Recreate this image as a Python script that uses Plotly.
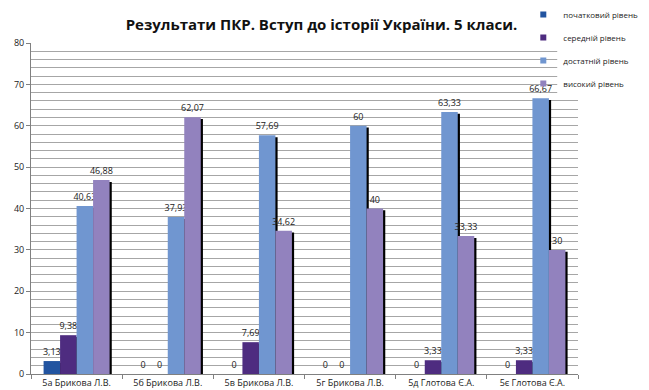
import plotly.graph_objects as go

categories = ["5а Брикова Л.В.", "5б Брикова Л.В.", "5в Брикова Л.В.",
              "5г Брикова Л.В.", "5д Глотова Є.А.", "5є Глотова Є.А."]
series_names = ["початковий рівень", "середній рівень", "достатній рівень", "високий рівень"]
pochatkovyi = [3.13, 0, 0, 0, 0, 0]
serednii = [9.38, 0, 7.69, 0, 3.33, 3.33]
dostatnii = [40.63, 37.93, 57.69, 60, 63.33, 66.67]
vysokyi = [46.88, 62.07, 34.62, 40, 33.33, 30]
series_values = [pochatkovyi, serednii, dostatnii, vysokyi]
colors = ["#2254A0", "#4E2C80", "#7096D0", "#9282BE"]
y_ticks = [0, 10, 20, 30, 40, 50, 60, 70, 80]

xs = list(range(len(categories)))
w = 0.181
shadow_shift = 0.024
shadow_drop = 0.45

def fmt(v):
    s = f"{v:.2f}".rstrip("0").rstrip(".")
    return s.replace(".", ",")

fig = go.Figure()
for i, (name, vals, col) in enumerate(zip(series_names, series_values, colors)):
    off = -2 * w + i * w
    fig.add_trace(go.Bar(
        x=xs, y=[max(v - shadow_drop, 0) for v in vals], width=w,
        offset=off + shadow_shift, marker=dict(color="#000000", line=dict(width=0)),
        showlegend=False, hoverinfo="skip"))
    fig.add_trace(go.Bar(
        x=xs, y=vals, width=w, offset=off, name=name,
        legendgroup=name, showlegend=False,
        marker=dict(color=col, line=dict(width=0)),
        text=[fmt(v) for v in vals], textposition="outside",
        textfont=dict(size=9, color="#222222", family="Open Sans"),
        cliponaxis=False))

# legend entries with small square keys
for name, col in zip(series_names, colors):
    fig.add_trace(go.Scatter(
        x=[None], y=[None], mode="markers", name=name, legendgroup=name,
        marker=dict(symbol="square", size=6, color=col), showlegend=True))

# white patch behind the legend entries (hides gridlines there)
fig.add_shape(type="rect", xref="paper", yref="paper",
              x0=0.962, x1=1.002, y0=0.8375, y1=1.003,
              fillcolor="white", line=dict(width=0), layer="above")

fig.update_layout(
    width=649, height=390,
    barmode="overlay",
    uniformtext=dict(minsize=9, mode="show"),
    paper_bgcolor="white", plot_bgcolor="white",
    margin=dict(l=23, r=79, t=34.5, b=24, autoexpand=False),
    title=dict(text="<b>Результати ПКР. Вступ до історії України. 5 класи.</b>",
               x=0.483, xanchor="center", y=0.957, yanchor="middle",
               font=dict(size=15, color="#111111", family="Open Sans")),
    font=dict(family="Open Sans", size=9, color="#222222"),
    legend=dict(x=0.9, y=1.13, xanchor="left", yanchor="top",
                bgcolor="rgba(0,0,0,0)", font=dict(size=8, color="#222222"),
                tracegroupgap=4, itemwidth=30, traceorder="grouped"),
    xaxis=dict(range=[-0.5, 5.5], tickmode="array", tickvals=xs, ticktext=categories,
               ticks="", showgrid=False, showline=True, linecolor="#808080", linewidth=1,
               tickfont=dict(size=9, color="#222222"),
               minor=dict(tick0=-0.5, dtick=1, ticks="outside", ticklen=4, tickcolor="#808080", showgrid=False),
               zeroline=False),
    yaxis=dict(range=[0, 80], tickmode="array", tickvals=y_ticks, ticks="outside", ticklen=4,
               tickcolor="#808080", showline=True, linecolor="#808080", linewidth=1,
               showgrid=True, gridcolor="#A6A6A6", gridwidth=1,
               minor=dict(dtick=2, showgrid=True, gridcolor="#A6A6A6", gridwidth=1),
               tickfont=dict(size=9, color="#222222"), zeroline=False),
)
fig.write_html("out.html")
